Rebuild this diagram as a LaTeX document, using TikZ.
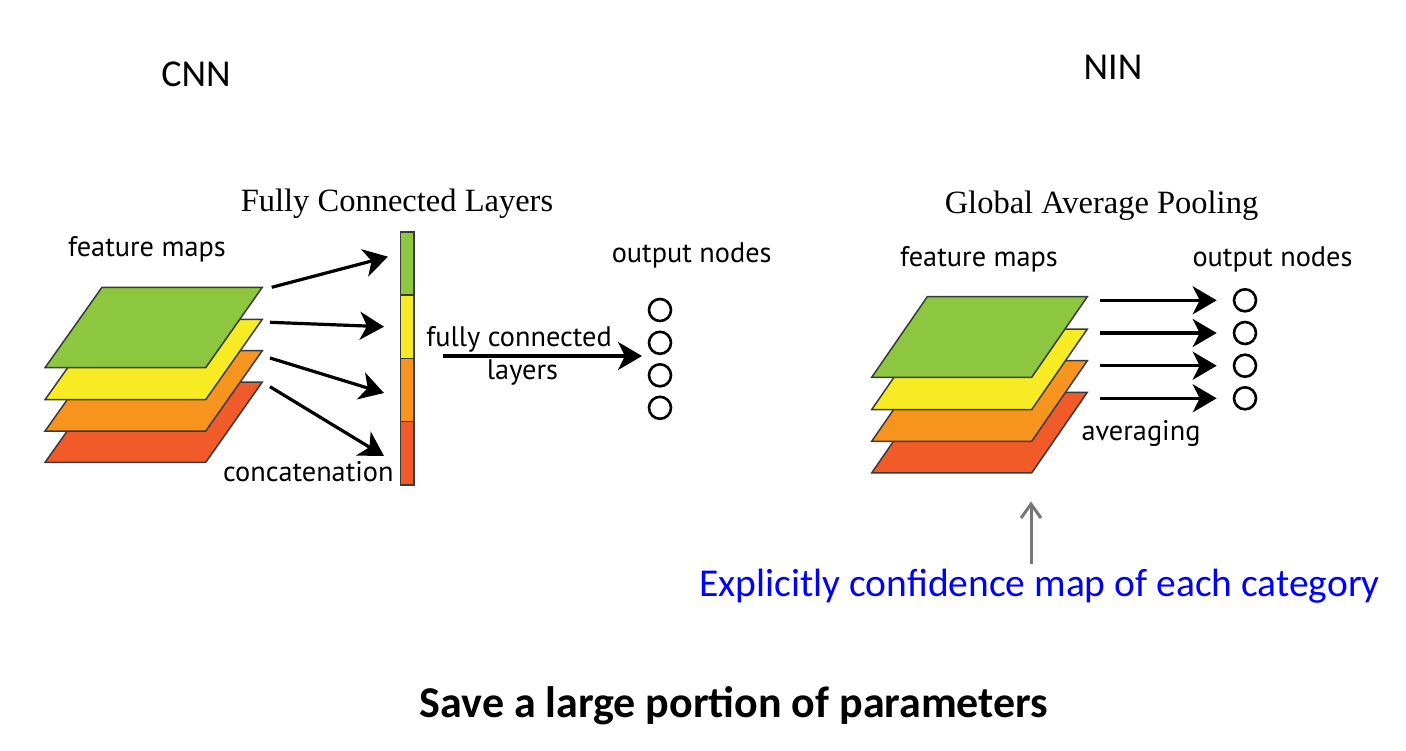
\documentclass[tikz,border=0pt]{standalone}
\usepackage{fontspec}
\setmainfont{Liberation Serif}
\newfontfamily\calfont{Carlito}
\newfontfamily\labfont{PT Sans}
\usetikzlibrary{arrows.meta}
\definecolor{pgreen}{HTML}{8DC63F}
\definecolor{pyellow}{HTML}{F7EC23}
\definecolor{porange}{HTML}{F7941E}
\definecolor{pred}{HTML}{F15A29}
\definecolor{pedge}{HTML}{3A3A3A}
\definecolor{pblue}{HTML}{0000FF}
\definecolor{pgray}{HTML}{777777}
\begin{document}
\begin{tikzpicture}[x=1pt,y=-1pt,
  lab/.style={font=\labfont\fontsize{28.3}{32}\selectfont, inner sep=0pt, anchor=base},
  ttl/.style={font=\fontsize{32.5}{36}\selectfont, inner sep=0pt, anchor=base},
  big/.style={font=\calfont\fontsize{38}{42}\selectfont, inner sep=0pt, anchor=base},
  plane/.style={draw=pedge, line width=1.5pt, line join=miter},
  bigarrow/.style={line width=3.2pt, -{Stealth[length=24pt,width=28pt,inset=7pt]}},
  outnode/.style={circle, draw=black, line width=2.6pt, minimum size=22pt, inner sep=0pt},
  barseg/.style={draw=pedge, line width=1.5pt, minimum width=13.5pt, minimum height=63.2pt, inner sep=0pt}
]
\useasboundingbox[fill=white] (0,0) rectangle (1406,750);

% ---------- headings ----------
\node[big] (cnn) at (196,86.7) {CNN};
\node[big] (nin) at (1113,79.3) {NIN};

% ---------- CNN side ----------
\node[ttl] (fcl) at (397,211.7) {Fully Connected Layers};
\node[lab] (fm1) at (147,256.7) {feature maps};
\node[lab] (on1) at (691.7,262.3) {output nodes};
\node[lab] (cat) at (308.3,481.7) {concatenation};
\node[lab] (fc1) at (519,346) {fully connected};
\node[lab] (lay) at (522.5,379) {layers};

% feature-map planes
\foreach \yy/\col in {382/pred,350.7/porange,319.3/pyellow,287.3/pgreen}{
  \draw[plane, fill=\col] (102,\yy) -- ++(160.3,0) -- ++(-56.6,80.4) -- ++(-160.7,0) -- cycle;
}

% concatenation bar
\node[barseg, fill=pgreen]  (b1) at (407.3,263.6) {};
\node[barseg, fill=pyellow] (b2) at (407.3,326.8) {};
\node[barseg, fill=porange] (b3) at (407.3,390.0) {};
\node[barseg, fill=pred]    (b4) at (407.3,453.2) {};

\coordinate (s1) at (271.7,287.3);
\coordinate (s2) at (270,322.3);
\coordinate (s3) at (270,358);
\coordinate (s4) at (270,386.7);
\coordinate (t1) at (388,256.7);
\coordinate (t2) at (384,326.7);
\coordinate (t3) at (384,393);
\coordinate (t4) at (384,456);
\draw[bigarrow] (s1) -- (t1);
\draw[bigarrow] (s2) -- (t2);
\draw[bigarrow] (s3) -- (t3);
\draw[bigarrow] (s4) -- (t4);

% output nodes (CNN)
\node[outnode] (o1) at (660,310) {};
\node[outnode] (o2) at (660,342.8) {};
\node[outnode] (o3) at (660,375.3) {};
\node[outnode] (o4) at (660,407.8) {};

\coordinate (fcs) at (443.3,356);
\coordinate (fct) at (642,356);
\draw[bigarrow] (fcs) -- (fct);

% ---------- NIN side ----------
\node[ttl] (gap) at (1101.5,213.3) {Global Average Pooling};
\node[lab] (fm2) at (979,266) {feature maps};
\node[lab] (on2) at (1272.5,266) {output nodes};
\node[lab] (avg) at (1141,440) {averaging};

\foreach \yy/\col in {392.3/pred,360.7/porange,329/pyellow,296.7/pgreen}{
  \draw[plane, fill=\col] (927.3,\yy) -- ++(160,0) -- ++(-55.6,80.6) -- ++(-160,0) -- cycle;
}

\node[outnode] (n1) at (1245,300.3) {};
\node[outnode] (n2) at (1245,333) {};
\node[outnode] (n3) at (1245,365.7) {};
\node[outnode] (n4) at (1245,398.3) {};

\coordinate (a1) at (1100,300.3);
\coordinate (a2) at (1100,333);
\coordinate (a3) at (1100,365.7);
\coordinate (a4) at (1100,398.3);
\draw[bigarrow, shorten >=16pt] (a1) -- (n1);
\draw[bigarrow, shorten >=16pt] (a2) -- (n2);
\draw[bigarrow, shorten >=16pt] (a3) -- (n3);
\draw[bigarrow, shorten >=16pt] (a4) -- (n4);

% confidence annotation
\node[big, font=\calfont\fontsize{39.5}{44}\selectfont, text=pblue] (conf) at (1039.7,596.7) {Explicitly confidence map of each category};
\coordinate (gb) at (1031,563.5);
\coordinate (gt) at (1031,501.5);
\draw[pgray, line width=3pt, -{Straight Barb[length=14pt,width=20pt,line width=3pt]}] (gb) -- (gt);

% bottom line
\node[big, font=\calfont\bfseries\fontsize{44}{48}\selectfont] (save) at (734,717) {Save a large portion of parameters};
\end{tikzpicture}
\end{document}
